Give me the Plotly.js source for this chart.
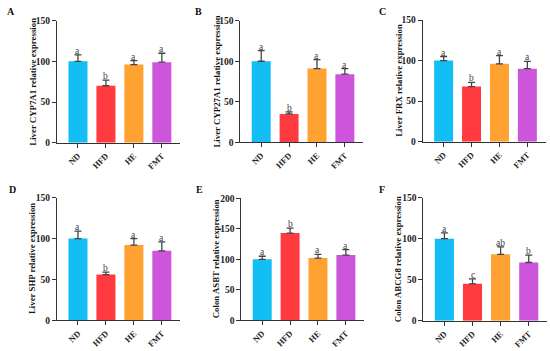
<!DOCTYPE html>
<html><head><meta charset="utf-8">
<script src="https://cdn.plot.ly/plotly-3.0.1.min.js"></script>
<style>body{margin:0;background:#fff}</style></head>
<body><div id="chart" style="width:550px;height:351px"></div>
<script>
const groups = ['ND', 'HFD', 'HE', 'FMT'];
const barColors = ['#13BEF5', '#FF3B3F', '#FFA231', '#CD55DC'];

const panelLetters = ['A', 'B', 'C', 'D', 'E', 'F'];
const axisTitles = ['Liver CYP7A1 relative expression', 'Liver CYP27A1 relative expression',
  'Liver FRX relative expression', 'Liver SHP relative expression',
  'Colon ASBT relative expression', 'Colon ABCG8 relative expression'];

const cyp7a1 = [100, 70, 96, 99];
const cyp7a1Err = [8, 7, 5, 11];
const cyp7a1Sig = ['a', 'b', 'a', 'a'];

const cyp27a1 = [100, 35, 91, 84];
const cyp27a1Err = [13, 2.5, 11, 7];
const cyp27a1Sig = ['a', 'b', 'a', 'a'];

const frx = [100, 68, 96, 90];
const frxErr = [5, 5, 10, 9];
const frxSig = ['a', 'b', 'a', 'a'];

const shp = [100, 56, 92, 85];
const shpErr = [9, 3, 8, 11];
const shpSig = ['a', 'b', 'a', 'a'];

const asbt = [100, 143, 102, 107];
const asbtErr = [5, 8, 6, 9];
const asbtSig = ['a', 'b', 'a', 'a'];

const abcg8 = [100, 45, 81, 71];
const abcg8Err = [7, 6, 9, 9];
const abcg8Sig = ['a', 'c', 'ab', 'b'];

const yMax = [150, 150, 150, 150, 200, 150];

const series = [cyp7a1, cyp27a1, frx, shp, asbt, abcg8];
const errs = [cyp7a1Err, cyp27a1Err, frxErr, shpErr, asbtErr, abcg8Err];
const sigs = [cyp7a1Sig, cyp27a1Sig, frxSig, shpSig, asbtSig, abcg8Sig];

// plot boxes in pixels: [left, right, top, bottom]
const W = 550, H = 351;
const boxes = [
  [57, 180, 20.7, 142.7],
  [240.3, 363, 20.7, 142.3],
  [422.7, 545.5, 20, 141.7],
  [57, 180, 197.7, 320.3],
  [241.3, 364, 198.3, 320.3],
  [423.3, 547, 197.7, 320.7]
];
const letterPos = [[5, 12], [193, 12], [377, 12], [7, 189], [194, 189], [377, 189]];
const titleX = [33, 216, 399, 32, 216, 398];

const serif = 'Liberation Serif, Times New Roman, serif';
const axisColor = '#333';
const traces = [];
const layout = {
  width: W, height: H, margin: {l: 0, r: 0, t: 0, b: 0},
  paper_bgcolor: '#fff', plot_bgcolor: '#fff', showlegend: false,
  annotations: []
};

series.forEach((vals, i) => {
  const n = i + 1;
  const xa = 'x' + (n === 1 ? '' : n), ya = 'y' + (n === 1 ? '' : n);
  traces.push({
    type: 'bar', x: groups, y: vals, xaxis: xa, yaxis: ya,
    marker: {color: barColors, line: {width: 0}},
    width: 0.68,
    error_y: {type: 'data', array: errs[i], arrayminus: groups.map(() => 0), symmetric: false,
      color: '#444', thickness: 1.3, width: 3.5},
    hoverinfo: 'none'
  });
  const b = boxes[i];
  const xk = 'xaxis' + (n === 1 ? '' : n), yk = 'yaxis' + (n === 1 ? '' : n);
  layout[xk] = {
    domain: [b[0] / W, b[1] / W], anchor: ya,
    range: [-0.75, 3.65], showline: true, linecolor: axisColor, linewidth: 1,
    ticks: 'outside', ticklen: 4, tickcolor: axisColor, tickwidth: 1,
    tickangle: -45, showgrid: false, zeroline: false, fixedrange: true,
    tickfont: {family: serif, size: 8.5, color: '#222', weight: 'bold'}
  };
  layout[yk] = {
    domain: [1 - b[3] / H, 1 - b[2] / H], anchor: xa,
    range: [0, yMax[i]], dtick: 50, showline: true, linecolor: axisColor, linewidth: 1,
    ticks: 'outside', ticklen: 4, tickcolor: axisColor, tickwidth: 1,
    showgrid: false, zeroline: false, fixedrange: true,
    tickfont: {family: serif, size: 9.5, color: '#222', weight: 'bold'}
  };
  layout.annotations.push({
    xref: 'paper', yref: 'paper', x: letterPos[i][0] / W, y: 1 - letterPos[i][1] / H,
    xanchor: 'left', yanchor: 'middle', showarrow: false, text: panelLetters[i],
    font: {family: serif, size: 10, color: '#111', weight: 'bold'}
  });
  layout.annotations.push({
    xref: 'paper', yref: 'paper', x: titleX[i] / W, y: 1 - (b[2] + b[3]) / 2 / H,
    xanchor: 'center', yanchor: 'middle', showarrow: false, textangle: -90,
    text: axisTitles[i],
    font: {family: serif, size: 8.8, color: '#111', weight: 'bold'}
  });
  groups.forEach((g, j) => {
    layout.annotations.push({
      xref: xa, yref: ya, x: g, y: vals[j] + errs[i][j],
      xanchor: 'center', yanchor: 'bottom', yshift: -3, showarrow: false,
      text: sigs[i][j], font: {family: serif, size: 9.5, color: '#444'}
    });
  });
});

Plotly.newPlot('chart', traces, layout, {displayModeBar: false, staticPlot: true});
</script>
</body></html>
